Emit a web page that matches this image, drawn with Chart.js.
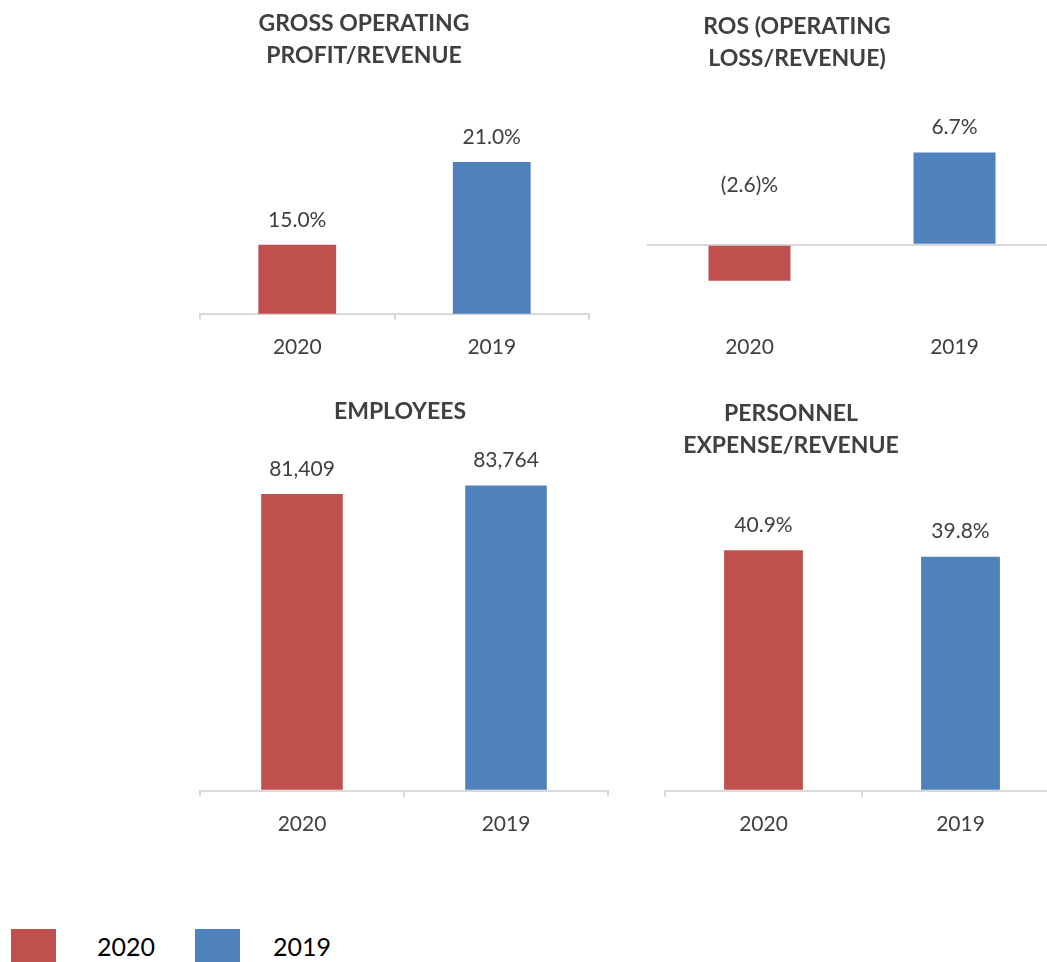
<!DOCTYPE html>
<html>
<head>
<meta charset="utf-8">
<script src="https://cdn.jsdelivr.net/npm/chart.js@4.4.1/dist/chart.umd.min.js"></script>
<style>
  html, body { margin: 0; padding: 0; background: #fff; overflow: hidden; }
  body { width: 1047px; height: 962px; position: relative; font-family: Lato, "Open Sans", sans-serif; }
  .panel { position: absolute; }
  .swatch { position: absolute; top: 929px; width: 45px; height: 40px; }
  .ltext { position: absolute; top: 929px; height: 34px; line-height: 34px; font-size: 25px; color: #000; }
</style>
</head>
<body>

<div class="panel" style="left:139px; top:0; width:454px; height:375px"><canvas id="grossChart"></canvas></div>
<div class="panel" style="left:537px; top:0; width:524px; height:375px"><canvas id="rosChart"></canvas></div>
<div class="panel" style="left:192px; top:380px; width:420px; height:472px"><canvas id="employeesChart"></canvas></div>
<div class="panel" style="left:523px; top:380px; width:540px; height:472px"><canvas id="personnelChart"></canvas></div>

<!-- legenda -->
<div class="swatch" style="left:11px; background:#C0504D"></div>
<div class="ltext" style="left:97px">2020</div>
<div class="swatch" style="left:195px; background:#4F81BD"></div>
<div class="ltext" style="left:273px">2019</div>

<script>
// ─── Veriler ──────────────────────────────────────
const years = ['2020', '2019'];
const grossMargin = [15.0, 21.0];        // % gross operating profit / revenue
const rosValues = [-2.6, 6.7];           // % operating loss / revenue
const employees = [81409, 83764];
const personnelRatio = [40.9, 39.8];     // % personnel expense / revenue
const yearColors = ['#C0504D', '#4F81BD'];

const TEXT = '#404040';
const AXIS = '#D9D9D9';
const FONT = 'Lato, "Open Sans", sans-serif';

const fmtPct = v => v < 0 ? `(${Math.abs(v).toFixed(1)})%` : `${v.toFixed(1)}%`;
const fmtInt = v => v.toLocaleString('en-US');

// ─── Bar üstü değer etiketleri ─────────────────────
// negatif değerin etiketi sıfır çizgisinin üstüne alınır (orijinaldeki gibi)
const barLabels = {
  id: 'barLabels',
  afterDatasetsDraw(chart, args, opts) {
    const { ctx } = chart;
    const ds = chart.data.datasets[0];
    const zero = chart.scales.y.getPixelForValue(0);
    ctx.save();
    ctx.font = `21px ${FONT}`;
    ctx.fillStyle = TEXT;
    ctx.textAlign = 'center';
    ctx.textBaseline = 'middle';
    chart.getDatasetMeta(0).data.forEach((bar, i) => {
      const v = ds.data[i];
      const y = v >= 0 ? bar.y - opts.gap : zero - opts.negLift;
      ctx.fillText(ds.labelFormat(v), bar.x, y);
    });
    ctx.restore();
  },
};

function makeChart(canvasId, values, format, o) {
  return new Chart(document.getElementById(canvasId), {
    type: 'bar',
    data: {
      labels: years,
      datasets: [{
        data: values,
        backgroundColor: yearColors,
        borderWidth: 0,
        categoryPercentage: 1,
        barPercentage: 0.4,
        labelFormat: format,
      }],
    },
    options: {
      responsive: true,
      maintainAspectRatio: false,
      animation: false,
      layout: { padding: { left: 0, right: 4, top: 0, bottom: 0 } },
      plugins: {
        legend: { display: false },
        tooltip: { enabled: false },
        title: {
          display: true,
          text: o.title,
          color: TEXT,
          font: { family: FONT, size: 23, weight: 'bold', lineHeight: '32px' },
          padding: o.titlePad,
        },
        barLabels: { gap: 25, negLift: 60 },
      },
      scales: {
        x: {
          offset: true,
          grid: {
            display: true, drawOnChartArea: false, drawTicks: true, tickLength: 6, offset: true,
            color: o.axisLine ? AXIS : 'transparent', lineWidth: 2,
          },
          border: { display: o.axisLine, color: AXIS, width: 2 },
          ticks: { color: TEXT, padding: 15, font: { family: FONT, size: 21 } },
        },
        y: {
          min: o.min, max: o.max,
          afterFit: s => { s.width = o.yWidth; },
          ticks: { display: false, stepSize: o.step },
          border: { display: false },
          grid: {
            drawTicks: false, lineWidth: 2,
            color: c => (o.zeroLine && c.tick && c.tick.value === 0) ? AXIS : 'transparent',
          },
        },
      },
    },
    plugins: [barLabels],
  });
}

makeChart('grossChart', grossMargin, fmtPct, {
  title: ['GROSS OPERATING', 'PROFIT/REVENUE'],
  titlePad: { top: 8, bottom: 28 },
  min: 10, max: 25.5, step: 5, yWidth: 61, axisLine: true, zeroLine: false,
});

makeChart('rosChart', rosValues, fmtPct, {
  title: ['ROS (OPERATING', 'LOSS/REVENUE)'],
  titlePad: { top: 11, bottom: 25 },
  min: -5, max: 10.5, step: 5, yWidth: 110, axisLine: false, zeroLine: true,
});

makeChart('employeesChart', employees, fmtInt, {
  title: 'EMPLOYEES',
  titlePad: { top: 16, bottom: 42 },
  min: 0, max: 88000, step: 20000, yWidth: 8, axisLine: true, zeroLine: false,
});

makeChart('personnelChart', personnelRatio, fmtPct, {
  title: ['PERSONNEL', 'EXPENSE/REVENUE'],
  titlePad: { top: 18, bottom: 20 },
  min: 0, max: 52.5, step: 10, yWidth: 142, axisLine: true, zeroLine: false,
});
</script>
</body>
</html>
